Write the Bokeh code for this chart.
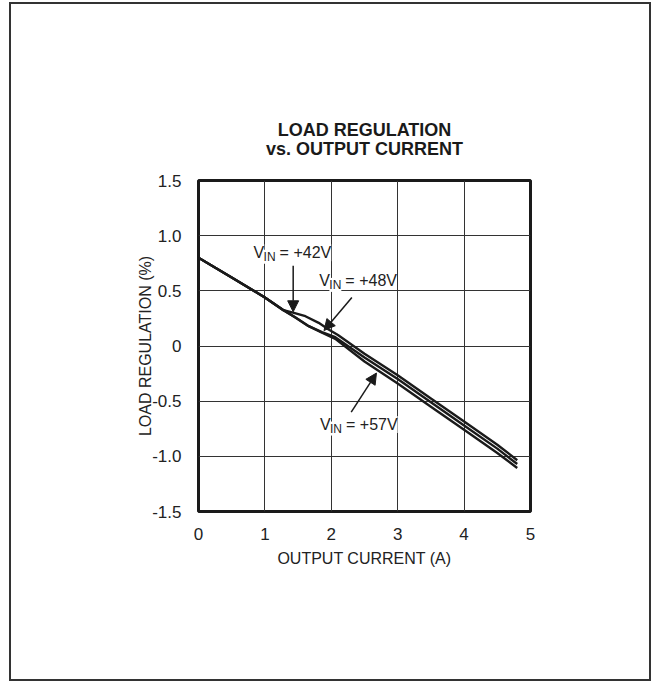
from bokeh.plotting import figure
from bokeh.models import Range1d, FixedTicker, Label, Arrow, NormalHead, LinearAxis
from bokeh.layouts import column
from bokeh.embed import file_html
from bokeh.resources import INLINE

# ---------------- data ----------------
x_ticks = [0, 1, 2, 3, 4, 5]
x_tick_labels = ["0", "1", "2", "3", "4", "5"]
y_ticks = [-1.5, -1.0, -0.5, 0.0, 0.5, 1.0, 1.5]
y_tick_labels = ["-1.5", "-1.0", "-0.5", "0", "0.5", "1.0", "1.5"]

x_vin42 = [0.0, 0.5, 1.0, 1.28, 1.41, 1.61, 1.81, 1.96, 2.1, 2.5, 3.0, 3.5, 4.0, 4.5, 4.8]
y_vin42 = [0.80, 0.62, 0.44, 0.325, 0.305, 0.27, 0.21, 0.15, 0.10, -0.07, -0.265, -0.475, -0.685, -0.895, -1.035]

x_vin48 = [0.0, 0.5, 1.0, 1.28, 1.46, 1.66, 1.86, 2.06, 2.5, 3.0, 3.5, 4.0, 4.5, 4.8]
y_vin48 = [0.80, 0.62, 0.44, 0.325, 0.258, 0.18, 0.125, 0.08, -0.105, -0.30, -0.51, -0.72, -0.93, -1.07]

x_vin57 = [0.0, 0.5, 1.0, 1.28, 1.46, 1.66, 1.86, 2.06, 2.5, 3.0, 3.5, 4.0, 4.5, 4.8]
y_vin57 = [0.80, 0.62, 0.44, 0.325, 0.258, 0.18, 0.12, 0.065, -0.14, -0.34, -0.55, -0.76, -0.97, -1.105]

# annotation anchors (label position, arrow start, arrow tip)
labels_vin = ["+42V", "+48V", "+57V"]
label_x = [0.83, 1.82, 1.83]
label_y = [0.845, 0.59, -0.712]
arrow_x_start = [1.426, 2.31, 2.30]
arrow_y_start = [0.727, 0.44, -0.60]
arrow_x_end = [1.426, 1.89, 2.68]
arrow_y_end = [0.31, 0.14, -0.245]

title_lines = ["LOAD REGULATION", "vs. OUTPUT CURRENT"]

FONT = "Liberation Sans"
INK = "#1a1a1a"

p = figure(width=638, height=675, output_backend="svg", toolbar_location=None,
           x_range=Range1d(0, 5), y_range=Range1d(-1.5, 1.5),
           min_border_left=187, min_border_right=119,
           min_border_top=176, min_border_bottom=168)

p.background_fill_color = "white"
p.border_fill_color = "white"
p.outline_line_color = INK
p.outline_line_width = 3

for ax in (p.xaxis[0], p.yaxis[0]):
    ax.axis_line_color = None
    ax.major_tick_line_color = None
    ax.minor_tick_line_color = None
    ax.major_tick_out = 0
    ax.major_tick_in = 0
    ax.major_label_text_font = FONT
    ax.major_label_text_font_size = "17px"
    ax.major_label_text_color = "#222222"
    ax.axis_label_text_font = FONT
    ax.axis_label_text_font_size = "16px"
    ax.axis_label_text_font_style = "normal"
    ax.axis_label_text_color = "#222222"

p.xaxis.ticker = FixedTicker(ticks=x_ticks)
p.yaxis.ticker = FixedTicker(ticks=y_ticks)
p.xaxis.major_label_overrides = {t: l for t, l in zip(x_ticks, x_tick_labels)}
p.yaxis.major_label_overrides = {t: l for t, l in zip(y_ticks, y_tick_labels)}
p.xaxis.major_label_standoff = 16
p.yaxis.major_label_standoff = 17
p.xaxis.axis_label = "OUTPUT CURRENT (A)"
p.yaxis.axis_label = "LOAD REGULATION (%)"
p.xaxis.axis_label_standoff = 7
p.yaxis.axis_label_standoff = -5

p.xgrid.ticker = FixedTicker(ticks=x_ticks)
p.ygrid.ticker = FixedTicker(ticks=y_ticks)
for g in (p.xgrid[0], p.ygrid[0]):
    g.grid_line_color = "#333333"
    g.grid_line_width = 1

# curves
for xs, ys in ((x_vin42, y_vin42), (x_vin48, y_vin48), (x_vin57, y_vin57)):
    p.line(xs, ys, line_color=INK, line_width=2.4)

# arrows
for xs, ys, xe, ye in zip(arrow_x_start, arrow_y_start, arrow_x_end, arrow_y_end):
    p.add_layout(Arrow(x_start=xs, y_start=ys, x_end=xe, y_end=ye,
                       line_color=INK, line_width=1.5,
                       end=NormalHead(size=11, fill_color=INK, line_color=INK)))

# V_IN labels (V + subscript IN + rest)
for txt, lx, ly in zip(labels_vin, label_x, label_y):
    common = dict(x=lx, y=ly, text_font=FONT, text_color="#222222",
                  text_align="left", text_baseline="alphabetic",
                  background_fill_color="white")
    p.add_layout(Label(text="V", x_offset=0, text_font_size="16px", **common))
    p.add_layout(Label(text="IN", x_offset=10, y_offset=-4, text_font_size="12px", **common))
    p.add_layout(Label(text="= " + txt, x_offset=26, text_font_size="16px", **common))

# two-line title: tick-less axes above the frame, whose labels carry the text
for t, standoff in ((title_lines[1], 22), (title_lines[0], -4)):
    tax = LinearAxis(ticker=FixedTicker(ticks=[]), axis_label=t,
                     axis_line_color=None, major_tick_line_color=None,
                     minor_tick_line_color=None, major_tick_out=0, major_tick_in=0,
                     major_label_text_font_size="0px",
                     axis_label_standoff=standoff,
                     axis_label_text_font=FONT, axis_label_text_font_style="bold",
                     axis_label_text_font_size="18px", axis_label_text_color=INK)
    p.add_layout(tax, "above")

layout = column(p, margin=(2, 0, 0, 9), styles={"border": "2px solid #333333"})

open("out.html", "w").write(file_html(layout, INLINE))
